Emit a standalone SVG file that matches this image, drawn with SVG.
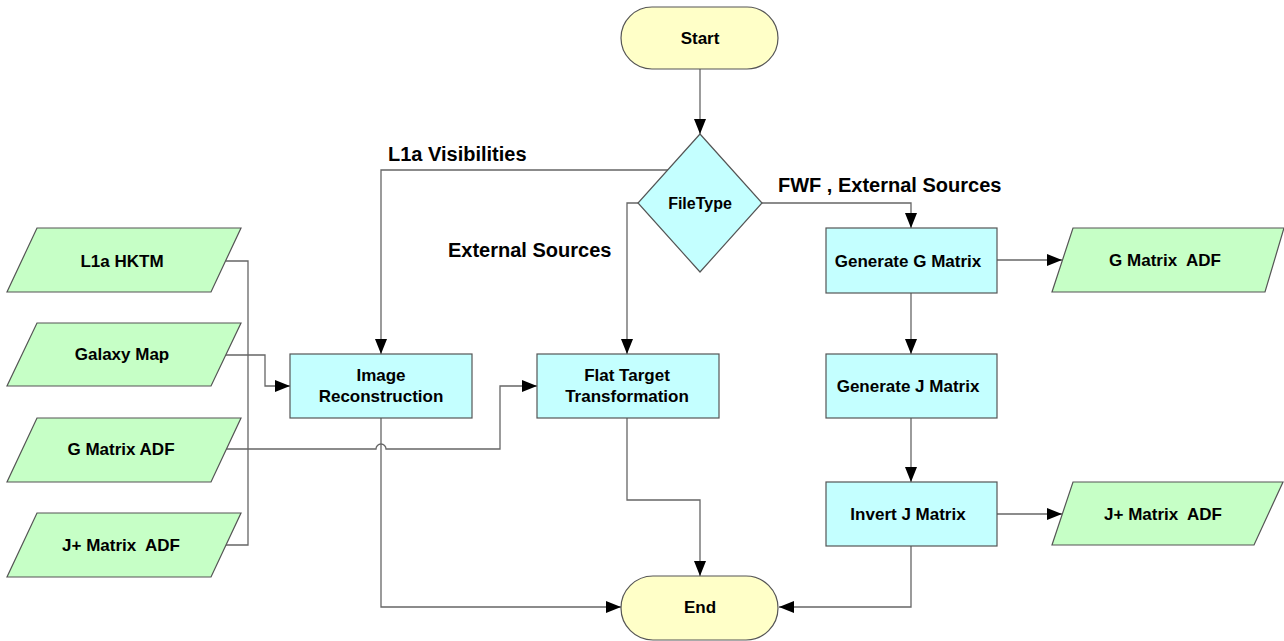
<svg xmlns="http://www.w3.org/2000/svg" width="1284" height="641" viewBox="0 0 1284 641">
<style>
text{font-family:"Liberation Sans",Arial,sans-serif;font-weight:bold;fill:#000;white-space:pre}
.n{font-size:17px;text-anchor:middle;dominant-baseline:central}
.lbl{font-size:20px}
.proc{fill:#c4ffff;stroke:#555;stroke-width:1.2}
.io{fill:#c6ffc6;stroke:#555;stroke-width:1.2}
.term{fill:#ffffc8;stroke:#555;stroke-width:1.2}
.c{fill:none;stroke:#666;stroke-width:1.3}
</style>
<defs>
<marker id="ah" markerWidth="15" markerHeight="12" refX="15" refY="6" orient="auto" markerUnits="userSpaceOnUse">
<path d="M0,0 L15,6 L0,12 Z" fill="#000"/>
</marker>
</defs>
<rect width="1284" height="641" fill="#fff"/>
<g id="connectors">
<path class="c" d="M700,69 V134" marker-end="url(#ah)"/>
<path class="c" d="M668,170 H381 V354" marker-end="url(#ah)"/>
<path class="c" d="M639,203 H627 V354" marker-end="url(#ah)"/>
<path class="c" d="M761,203 H911 V228" marker-end="url(#ah)"/>
<path class="c" d="M997,260 H1062" marker-end="url(#ah)"/>
<path class="c" d="M911,293 V354" marker-end="url(#ah)"/>
<path class="c" d="M911,418 V482" marker-end="url(#ah)"/>
<path class="c" d="M997,514 H1062" marker-end="url(#ah)"/>
<path class="c" d="M911,546 V607 H779" marker-end="url(#ah)"/>
<path class="c" d="M627,418 V500 H700 V576" marker-end="url(#ah)"/>
<path class="c" d="M381,418 V607 H621" marker-end="url(#ah)"/>
<path class="c" d="M226,261 H248 V545 H226"/>
<path class="c" d="M226,355 H265 V386 H290" marker-end="url(#ah)"/>
<path class="c" d="M226,449 H376 A5,5 0 0 1 386,449 H500 V386 H537" marker-end="url(#ah)"/>
</g>
<g id="start"><rect class="term" x="621" y="7" width="157" height="62" rx="31"/><text class="n" x="700" y="38">Start</text></g>
<g id="filetype"><polygon class="proc" points="700,134 762,203 700,272 638,203"/><text class="n" x="700" y="203" style="font-size:16px">FileType</text></g>
<g id="image-reconstruction"><rect class="proc" x="290" y="354" width="182" height="64"/><text class="n" x="381" y="375">Image</text><text class="n" x="381" y="396">Reconstruction</text></g>
<g id="flat-target"><rect class="proc" x="537" y="354" width="182" height="64"/><text class="n" x="627" y="375">Flat Target</text><text class="n" x="627" y="396">Transformation</text></g>
<g id="generate-g"><rect class="proc" x="826" y="228" width="171" height="65"/><text class="n" x="908" y="261">Generate G Matrix</text></g>
<g id="generate-j"><rect class="proc" x="826" y="354" width="171" height="64"/><text class="n" x="908" y="386">Generate J Matrix</text></g>
<g id="invert-j"><rect class="proc" x="826" y="482" width="171" height="64"/><text class="n" x="908" y="514">Invert J Matrix</text></g>
<g id="g-matrix-adf-out"><polygon class="io" points="1073,228 1284,228 1265,292 1052,292"/><text class="n" x="1165" y="260">G Matrix  ADF</text></g>
<g id="jplus-matrix-adf-out"><polygon class="io" points="1073,482 1283,482 1254,545 1052,545"/><text class="n" x="1163" y="514">J+ Matrix  ADF</text></g>
<g id="l1a-hktm"><polygon class="io" points="37,228 241,228 211,292 7,292"/><text class="n" x="122" y="261">L1a HKTM</text></g>
<g id="galaxy-map"><polygon class="io" points="37,323 241,323 211,386 7,386"/><text class="n" x="122" y="354">Galaxy Map</text></g>
<g id="g-matrix-adf-in"><polygon class="io" points="37,418 241,418 211,482 7,482"/><text class="n" x="121" y="449">G Matrix ADF</text></g>
<g id="jplus-matrix-adf-in"><polygon class="io" points="37,513 241,513 211,577 7,577"/><text class="n" x="121" y="545">J+ Matrix  ADF</text></g>
<g id="end"><rect class="term" x="621" y="576" width="157" height="64" rx="32"/><text class="n" x="700" y="607">End</text></g>
<g id="labels">
<text class="lbl" x="388" y="161">L1a Visibilities</text>
<text class="lbl" x="448" y="257">External Sources</text>
<text class="lbl" x="778" y="192">FWF , External Sources</text>
</g>
</svg>
